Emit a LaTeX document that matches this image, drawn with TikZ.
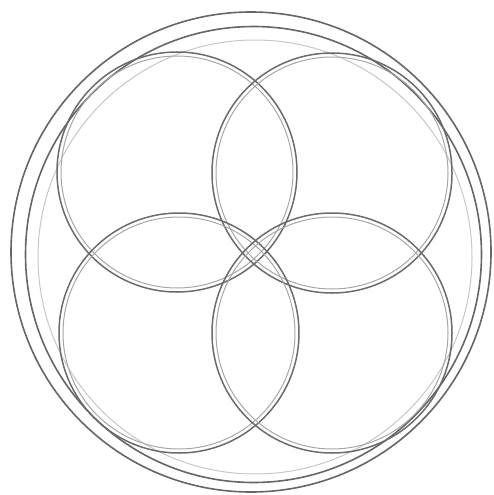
\documentclass[tikz,border=0pt]{standalone}
\begin{document}
\begin{tikzpicture}[x=1pt,y=-1pt,
  darkline/.style={draw=black!60,line width=1.6pt},
  midline/.style={draw=black!45,line width=1.1pt},
  faintline/.style={draw=black!22,line width=1pt},
  ringouter/.style={draw=black!58,line width=1.5pt},
  ringinner/.style={draw=black!35,line width=1pt}]
\useasboundingbox (0,0) rectangle (493,495);
% outer frame
\draw[darkline] (251,252) circle (240);
\draw[darkline] (253.5,254.5) circle (228);
\draw[faintline] (255,257) circle (217);
% four double rings
\foreach \cx/\cy in {177/172, 332/173, 179/333, 332/333}{
  \draw[ringouter] (\cx,\cy) circle (120);
  \draw[ringinner] (\cx,\cy) circle (116);
}
\end{tikzpicture}
\end{document}
